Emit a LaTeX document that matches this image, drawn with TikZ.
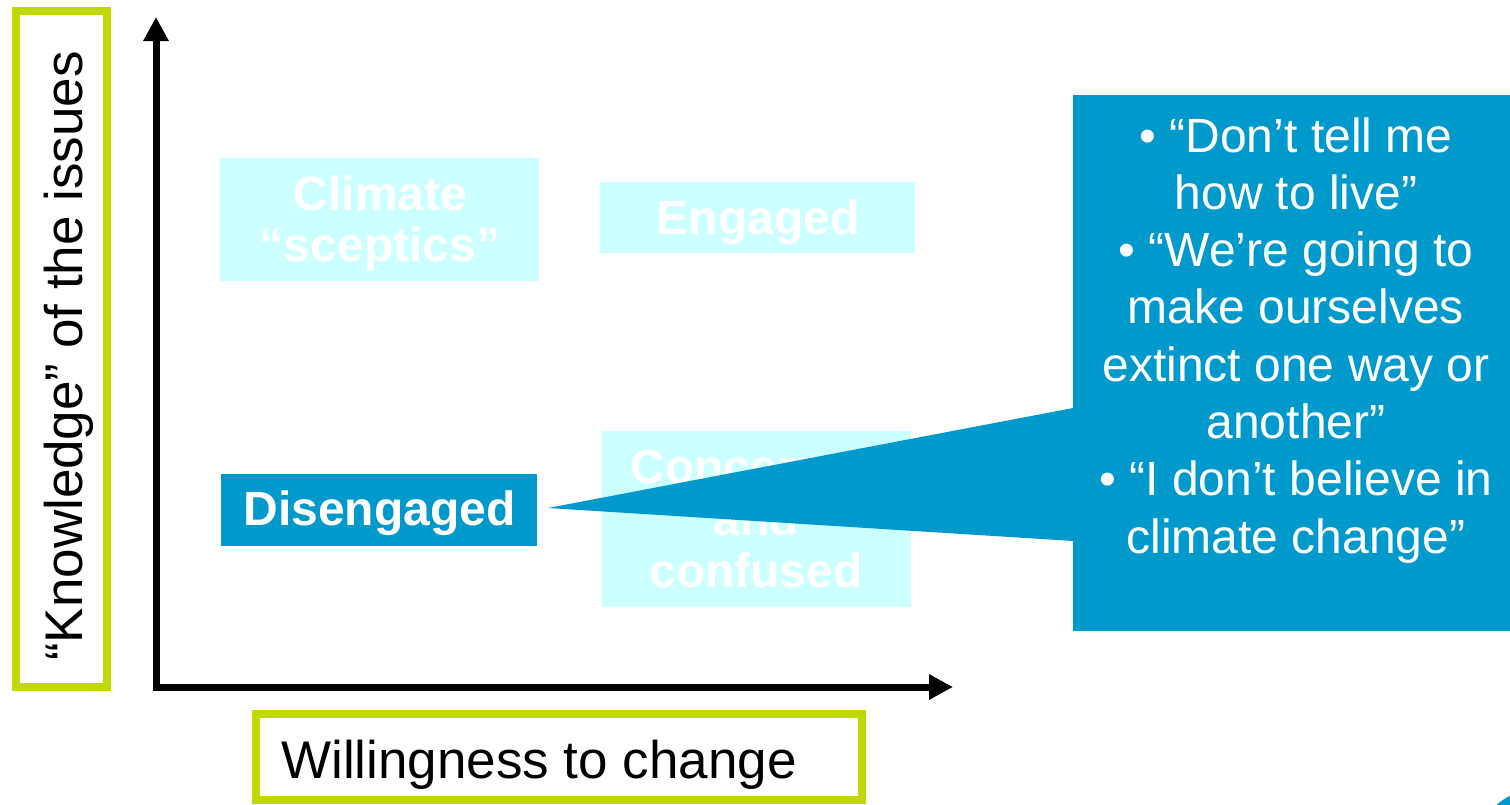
\documentclass[tikz,border=0pt]{standalone}
\usepackage{fontspec}
\setmainfont{Liberation Sans}
\usetikzlibrary{arrows.meta}
\definecolor{limeEdge}{RGB}{192,216,0}
\definecolor{paleCyan}{RGB}{204,255,255}
\definecolor{calloutBlue}{RGB}{0,153,204}
\begin{document}
\begin{tikzpicture}[x=1pt,y=-1pt,
  limebox/.style={draw=limeEdge,line width=8pt,inner sep=0pt},
  cyanbox/.style={fill=paleCyan,draw=none,inner sep=0pt},
  bluebox/.style={fill=calloutBlue,draw=none,inner sep=0pt},
  boldtxt/.style={text=white,font=\fontsize{48}{51}\selectfont\bfseries,inner sep=0pt,anchor=base},
  quotetxt/.style={text=white,font=\fontsize{48}{57.5}\selectfont,inner sep=0pt,anchor=base},
  axislabel/.style={text=black,font=\fontsize{53}{60}\selectfont,inner sep=0pt,anchor=base},
  axisline/.style={line width=7pt,line join=miter,{Triangle[length=24pt,width=24pt]}-{Triangle[length=24pt,width=24pt]}}
]
\useasboundingbox (0,0) rectangle (1510,804);
\clip (0,0) rectangle (1510,804);
\fill[white] (0,0) rectangle (1510,804);

% axis label boxes
\node[limebox, minimum width=91pt, minimum height=676.5pt] (ybox) at (61,348.75) {};
\node[axislabel, rotate=90] (ylabel) at (82,356) {“Knowledge” of the issues};
\node[limebox, minimum width=606pt, minimum height=86.5pt] (xbox) at (558.5,756.75) {};
\node[axislabel] (xlabel) at (539,778) {Willingness to change};

% axes
\coordinate (ytip) at (156,17);
\coordinate (origin) at (156,687);
\coordinate (xtip) at (953,687);
\draw[axisline] (ytip) -- (origin) -- (xtip);

% quadrant boxes
\node[cyanbox, minimum width=319pt, minimum height=123pt] (sceptics) at (379.5,219.5) {};
\node[boldtxt] (sc1) at (380.5,210) {Climate};
\node[boldtxt] (sc2) at (380,261) {“sceptics”};

\node[cyanbox, minimum width=315pt, minimum height=71pt] (engaged) at (757.5,217.5) {};
\node[boldtxt] (en1) at (758,234) {Engaged};

\node[cyanbox, minimum width=309pt, minimum height=176pt] (concerned) at (756.5,519) {};
\node[boldtxt] (co1) at (756,483) {Concerned};
\node[boldtxt] (co2) at (756,535) {and};
\node[boldtxt] (co3) at (756,587) {confused};

\node[bluebox, minimum width=316pt, minimum height=72pt] (diseng) at (379,510) {};
\node[boldtxt] (di1) at (379.5,525) {Disengaged};

% callout
\node[bluebox, minimum width=437pt, minimum height=536pt] (callout) at (1291.5,363) {};
\coordinate (tip) at (548,508);
\fill[calloutBlue] (tip) -- (1080,406.7) -- (1080,541.4) -- cycle;
\foreach \t [count=\i] in {• “Don’t tell me, how to live”, • “We’re going to, make ourselves, extinct one way or, another”, • “I don’t believe in, climate change”}
  \node[quotetxt] (q\i) at (1296,{152+57.3*(\i-1)}) {\t};

% partial logo at the corner
\fill[calloutBlue] (1532,843) circle (52);
\end{tikzpicture}
\end{document}
